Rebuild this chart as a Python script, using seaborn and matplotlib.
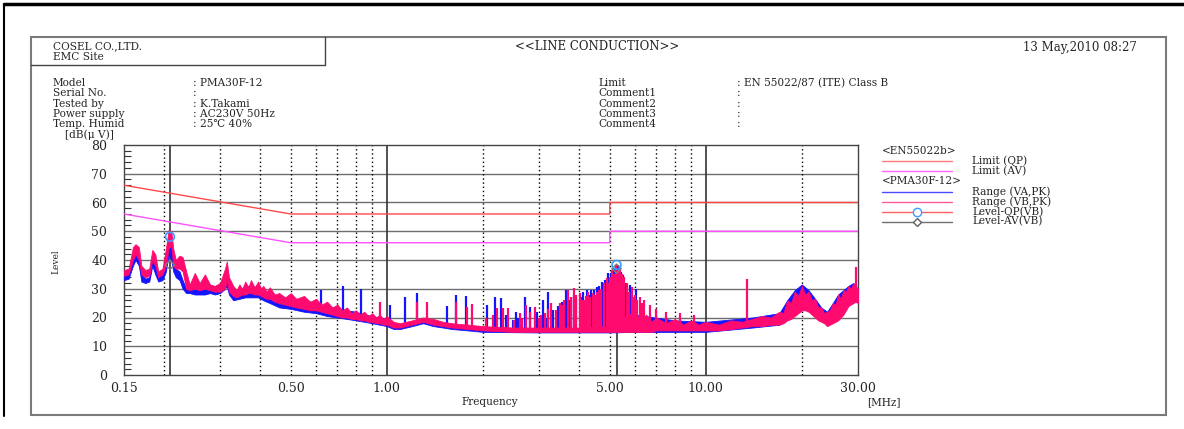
import matplotlib
matplotlib.use('Agg')
import matplotlib.pyplot as plt
import seaborn as sns
from matplotlib.patches import Rectangle
from matplotlib.ticker import FixedLocator, MultipleLocator, NullFormatter

# EN 55022 class B limits
lim_freq = [0.15, 0.5, 5.0, 5.0, 30.0]
lim_qp = [66, 56, 56, 60, 60]
lim_av = [56, 46, 46, 50, 50]

# Range (VB,PK) - pink trace, noise band (MHz, dBuV)
vb_freq = [0.150, 0.155, 0.160, 0.163, 0.167, 0.170, 0.175, 0.180, 0.184, 0.188,
           0.192, 0.198, 0.203, 0.207, 0.211, 0.214, 0.218, 0.224, 0.229, 0.235,
           0.241, 0.250, 0.259, 0.269, 0.279, 0.289, 0.300, 0.311, 0.315, 0.320,
           0.330, 0.338, 0.345, 0.352, 0.360, 0.368, 0.375, 0.385, 0.395, 0.403,
           0.410, 0.420, 0.430, 0.445, 0.460, 0.480, 0.500, 0.520, 0.550, 0.575,
           0.600, 0.625, 0.650, 0.675, 0.700, 0.725, 0.750, 0.775, 0.800, 0.825,
           0.850, 0.875, 0.900, 0.925, 0.950, 0.975, 1.00, 1.05, 1.10, 1.20,
           1.30, 1.40, 1.50, 1.60, 1.80, 2.00, 2.50, 3.00, 4.00, 5.00,
           5.50, 6.00, 6.25, 6.50, 6.75, 7.00, 7.50, 8.00, 8.50, 9.00,
           9.50, 10.0, 11.0, 12.0, 13.0, 14.0, 15.0, 16.0, 17.0, 17.5,
           18.0, 18.5, 19.0, 19.5, 20.0, 20.5, 21.0, 21.5, 22.0, 22.5,
           23.0, 23.5, 24.0, 24.5, 25.0, 25.5, 26.0, 26.5, 27.0, 27.5,
           28.0, 28.5, 29.0, 29.5, 30.0]
vb_lo = [34.5, 35, 40, 42, 40, 35, 34, 34.5, 40, 38,
         34, 35, 38, 44, 45, 38, 37, 37, 36, 30,
         29.5, 30, 29.5, 30, 29.5, 29, 29, 30, 33, 29,
         27.5, 27, 27.5, 28, 28, 28.5, 28.5, 28, 28, 27.5,
         27, 26.5, 26.5, 25.5, 25, 24.5, 24, 23.5, 23, 22.5,
         22.5, 22, 21.5, 21, 20.5, 20, 20, 19.5, 19.5, 19,
         19, 18.5, 18.5, 18, 18, 17.5, 17.5, 16.5, 16.5, 17.5,
         18.5, 17.5, 17, 16.5, 16, 15.5, 15, 15, 15, 15,
         15, 15, 15, 15, 15, 15.5, 15.5, 15.5, 15.5, 15.5,
         15.5, 15.5, 15.5, 16, 16.5, 17, 17, 17.5, 17.5, 18,
         19, 19.5, 20.5, 21.5, 22.5, 22.5, 22, 21, 20, 19,
         18.5, 18, 17, 17.5, 18, 18.5, 19, 20, 21, 22.5,
         24, 24.5, 25, 25.5, 25]
vb_hi = [36.5, 37, 44.5, 45.5, 44.5, 38, 36.5, 37, 43.5, 42,
         36, 37, 44, 50.5, 50, 44, 40, 41.5, 41, 36,
         31.5, 35.5, 32, 35, 31.5, 31, 32, 37, 39.5, 34,
         31, 29.5, 31.5, 30, 32.5, 30.5, 33, 30.5, 32.5, 30,
         31, 29, 30.5, 28, 28.5, 27, 28.5, 26.5, 27.5, 25.5,
         26.5, 24.5, 25.5, 23.5, 24.5, 22.5, 23.5, 21.5, 22.5, 21,
         22, 20.5, 21.5, 20, 21, 19.5, 20.5, 18.5, 18, 19,
         20, 19.5, 18.5, 18, 17.5, 17, 16.5, 16.5, 16.5, 17,
         20, 22, 19, 21, 18.5, 20, 18, 19.5, 17.5, 19,
         17.5, 18.5, 17.5, 19, 18.5, 19.5, 20.5, 20, 22, 21.5,
         26, 25, 29, 27.5, 31, 28, 29, 26, 26.5, 23.5,
         23.5, 21.5, 22, 22.5, 25, 24.5, 28, 26.5, 29.5, 29,
         31, 30, 32, 31, 30]
vb_spk_freq = [0.95, 1.24, 1.34, 1.65, 1.78, 1.85, 2.05, 2.15, 2.21, 2.32,
               2.40, 2.50, 2.61, 2.66, 2.74, 2.82, 2.91, 2.99, 3.05, 3.13,
               3.20, 3.28, 3.40, 3.48, 3.55, 3.60, 3.71, 3.78, 3.86, 3.93,
               4.03, 4.10, 4.15, 4.20, 4.28, 4.35, 4.42, 4.49, 4.55, 4.61,
               4.68, 4.78, 4.89, 4.95, 5.00, 5.07, 5.15, 5.23, 5.30, 5.37,
               5.45, 5.55, 5.67, 5.75, 5.85, 5.95, 6.00, 6.10, 6.20, 6.30,
               6.40, 6.70, 7.00, 7.50, 8.30, 9.20, 13.5, 29.5]
vb_spk_top = [25.5, 25.5, 25.5, 25.5, 23.8, 24.6, 20.0, 21.0, 23.2, 23.2,
              23.2, 19.0, 21.4, 20.0, 24.3, 22.0, 23.8, 19.7, 21.0, 21.4,
              23.0, 24.9, 22.6, 25.0, 24.5, 26.0, 29.6, 27.0, 30.1, 28.0,
              28.4, 26.0, 26.0, 27.5, 29.0, 27.0, 28.5, 27.8, 29.0, 29.6,
              30.0, 31.9, 33.6, 32.0, 34.0, 36.5, 35.0, 38.3, 36.5, 37.7,
              35.0, 34.2, 31.9, 29.0, 30.5, 27.0, 28.0, 26.0, 27.0, 25.0,
              26.0, 24.5, 23.0, 22.0, 21.5, 21.0, 33.3, 37.7]
vb_spk_base = [19.5, 18.5, 19, 17.5, 17, 17, 16, 16, 16, 16,
               16, 16, 16, 16, 16, 16, 16, 16, 16, 16,
               16, 16, 16, 16, 16, 16, 16, 16, 16, 16,
               16, 16, 16, 16, 16, 16, 16, 16, 16, 16,
               16, 16, 16, 16, 16, 16, 16, 16, 16, 16,
               16, 16, 16, 16, 16, 16, 16, 16, 16, 16,
               16, 16, 16, 16, 16, 16, 18, 29]

# Range (VA,PK) - blue trace
va_freq = [0.150, 0.155, 0.160, 0.163, 0.167, 0.170, 0.175, 0.180, 0.184, 0.188,
           0.192, 0.198, 0.203, 0.207, 0.211, 0.214, 0.218, 0.224, 0.229, 0.235,
           0.241, 0.250, 0.259, 0.269, 0.279, 0.289, 0.300, 0.311, 0.315, 0.320,
           0.330, 0.345, 0.360, 0.375, 0.395, 0.41, 0.43, 0.46, 0.50, 0.55,
           0.60, 0.65, 0.70, 0.75, 0.80, 0.85, 0.90, 0.95, 1.00, 1.05,
           1.10, 1.20, 1.30, 1.40, 1.50, 1.60, 1.80, 2.00, 3.00, 5.00,
           6.00, 8.00, 10.0, 14.0, 17.0, 18.0, 19.0, 20.0, 21.0, 22.0,
           23.0, 24.0, 25.0, 26.0, 27.0, 28.0, 29.0, 30.0]
va_lo = [33, 33.5, 38, 40, 38, 32.5, 32, 32.5, 38, 35,
         32.5, 33, 36, 42, 40, 36, 34, 33, 30, 28.5,
         28.5, 28, 28, 28, 28.5, 28, 28.5, 30, 31, 28,
         26, 26.5, 27, 27, 27, 26, 25, 23.5, 23, 22,
         21.5, 20.5, 20, 19.5, 19, 18.5, 18, 17.5, 17, 16,
         16, 17, 18, 17, 16.5, 16, 15.5, 15, 14.8, 14.8,
         15, 15, 15, 16.5, 17.5, 19.5, 21, 23, 22.5, 20.5,
         19, 17.5, 18.5, 19.5, 21.5, 24.5, 25.5, 25.5]
va_hi = [35.5, 36, 43, 44, 42, 35, 33.5, 34, 41.5, 39,
         34, 35, 42, 47.5, 46, 40, 37, 36, 33, 30,
         29.5, 30, 29.5, 30, 29.5, 30, 31, 35, 36, 31,
         28.5, 29, 31, 31, 30, 29, 28, 27, 26.5, 26,
         25, 24, 23, 22.5, 22, 21, 20.5, 20, 19.5, 17.5,
         17.5, 18.5, 19.5, 19, 18, 17.5, 17, 16.5, 16, 16.5,
         21, 19, 18.5, 20, 21.5, 26, 29.5, 31.5, 29.5, 26.5,
         23.5, 22, 25, 28, 29.5, 31, 32, 29.5]
va_spk_freq = [0.624, 0.728, 0.831, 1.02, 1.14, 1.24, 1.54, 1.65, 1.77, 2.06,
               2.18, 2.28, 2.37, 2.49, 2.55, 2.58, 2.71, 2.81, 2.95, 3.09,
               3.15, 3.20, 3.32, 3.45, 3.53, 3.65, 3.72, 3.79, 3.86, 3.93,
               4.05, 4.13, 4.23, 4.30, 4.38, 4.45, 4.55, 4.62, 4.72, 4.83,
               4.95, 5.05, 5.13, 5.20, 5.31, 5.42, 5.49, 5.62, 5.78, 6.05]
va_spk_top = [29.5, 31.0, 30.0, 24.5, 27.0, 28.5, 24.0, 27.8, 27.4, 24.3,
              27.2, 26.7, 21.0, 19.1, 22.0, 19.7, 27.2, 23.8, 22.0, 26.1,
              20.0, 29.0, 22.6, 24.0, 25.5, 29.6, 26.0, 27.2, 28.0, 26.7,
              27.0, 29.0, 29.6, 28.0, 29.6, 29.5, 30.5, 31.0, 32.5, 33.0,
              35.4, 35.5, 37.7, 37.0, 38.3, 36.0, 34.8, 32.0, 31.3, 30.0]
va_spk_base = [22, 21, 20, 17.5, 17, 18, 17, 16.5, 16.5, 15.5,
               15.5, 15.5, 15.5, 15.5, 15.5, 15.5, 15.5, 15.5, 15.5, 15.5,
               15.5, 15.5, 15.5, 15.5, 15.5, 15.5, 15.5, 15.5, 15.5, 15.5,
               15.5, 15.5, 15.5, 15.5, 15.5, 15.5, 15.5, 15.5, 15.5, 15.5,
               15.5, 15.5, 15.5, 15.5, 15.5, 15.5, 15.5, 15.5, 15.5, 15.5]

# final measurement points
qp_freq = [0.209, 5.25]
qp_level = [48.1, 38.3]
av_level = [38.3, 37.0]

y_ticks = [0, 10, 20, 30, 40, 50, 60, 70, 80]
x_ticks = [0.15, 0.50, 1.00, 5.00, 10.00, 30.00]
x_dotted = [0.2, 0.3, 0.4, 0.5, 0.6, 0.7, 0.8, 0.9, 2, 3, 4, 5, 6, 7, 8, 9, 20]

C_QP = '#ff4848'
C_AV = '#ff50ff'
C_VA = '#1414ff'
C_VB = '#ff0a6e'

sns.set_theme(style='white')
plt.rcParams['font.family'] = ['DejaVu Serif', 'DejaVu Sans']

fig = plt.figure(figsize=(11.84, 4.29), dpi=100)

# page furniture, pixel coordinates
bg = fig.add_axes([0, 0, 1, 1])
bg.set_xlim(0, 1184)
bg.set_ylim(429, 0)
bg.axis('off')
bg.plot([4, 1184], [4, 4], color='black', lw=2.5)
bg.plot([4, 4], [4, 416], color='black', lw=1.5)
bg.add_patch(Rectangle((31, 37), 1135, 378, fill=False, ec='#7a7a7a', lw=1.5))
bg.plot([31, 325], [65, 65], color='#444444', lw=1)
bg.plot([325, 325], [37, 65], color='#444444', lw=1)

fs = 7.6
bg.text(53, 46.5, 'COSEL CO.,LTD.', fontsize=fs, va='center')
bg.text(53, 57, 'EMC Site', fontsize=fs, va='center')
bg.text(597, 47, '<<LINE CONDUCTION>>', fontsize=8.5, va='center', ha='center')
bg.text(1137, 47, '13 May,2010 08:27', fontsize=8.5, va='center', ha='right')

left_keys = ['Model', 'Serial No.', 'Tested by', 'Power supply', 'Temp. Humid']
left_vals = [': PMA30F-12', ':', ': K.Takami', ': AC230V 50Hz', ': 25℃ 40%']
right_keys = ['Limit', 'Comment1', 'Comment2', 'Comment3', 'Comment4']
right_vals = [': EN 55022/87 (ITE) Class B', ':', ':', ':', ':']
for i in range(5):
    yy = 83 + i * 10.3
    bg.text(53, yy, left_keys[i], fontsize=fs, va='center')
    bg.text(193, yy, left_vals[i], fontsize=fs, va='center')
    bg.text(598, yy, right_keys[i], fontsize=fs, va='center')
    bg.text(737, yy, right_vals[i], fontsize=fs, va='center')
bg.text(65, 134.5, '[dB(μ V)]', fontsize=fs, va='center')
bg.text(56, 262, 'Level', fontsize=6.5, va='center', ha='center', rotation=90)
bg.text(490, 402, 'Frequency', fontsize=fs, va='center', ha='center')
bg.text(884, 402, '[MHz]', fontsize=fs, va='center', ha='center')

# legend block
bg.text(882, 151, '<EN55022b>', fontsize=fs, va='center')
bg.text(882, 181.5, '<PMA30F-12>', fontsize=fs, va='center')
leg = [(161, '#ff7a7a', 'Limit (QP)', None),
       (171, '#ff66ff', 'Limit (AV)', None),
       (191.5, '#4a4aff', 'Range (VA,PK)', None),
       (201.5, '#ff5a9a', 'Range (VB,PK)', None),
       (211.5, '#ff6060', 'Level-QP(VB)', 'o'),
       (221.5, '#707070', 'Level-AV(VB)', 'D')]
for yy, col, lab, mk in leg:
    bg.plot([882, 952], [yy, yy], color=col, lw=1)
    if mk == 'o':
        bg.plot([917], [yy], marker='o', ms=6, mfc='white', mec='#3c9cff', mew=1)
    elif mk == 'D':
        bg.plot([917], [yy], marker='D', ms=4.5, mfc='white', mec='#606060', mew=1)
    bg.text(972, yy, lab, fontsize=fs, va='center')

# chart
ax = fig.add_axes([124 / 1184, 1 - 375 / 429, 734 / 1184, 230 / 429])
ax.set_xscale('log')
ax.set_xlim(0.15, 30)
ax.set_ylim(0, 80)
ax.set_facecolor('white')

for yv in y_ticks[1:-1]:
    ax.axhline(yv, color='#6e6e6e', lw=1, zorder=1)
for xv in x_dotted:
    ax.axvline(xv, color='black', lw=1, ls=(0, (1, 2)), zorder=1)
for xv in [1, 10]:
    ax.axvline(xv, color='#333333', lw=1.2, zorder=1)
ax.axvline(qp_freq[0], color='#333333', lw=1.2, zorder=1)
ax.vlines(qp_freq[1], 0, qp_level[1], color='#333333', lw=1.2, zorder=1)

sns.lineplot(x=lim_freq, y=lim_qp, estimator=None, sort=False, color=C_QP, lw=1, ax=ax, zorder=3)
sns.lineplot(x=lim_freq, y=lim_av, estimator=None, sort=False, color=C_AV, lw=1, ax=ax, zorder=3)

ax.fill_between(va_freq, va_lo, va_hi, color=C_VA, lw=0.6, zorder=4)
ax.vlines(va_spk_freq, va_spk_base, va_spk_top, color=C_VA, lw=1.6, zorder=4)
ax.fill_between(vb_freq, vb_lo, vb_hi, color=C_VB, lw=0.6, zorder=5)
ax.vlines(vb_spk_freq, vb_spk_base, vb_spk_top, color=C_VB, lw=1.6, zorder=5)

sns.scatterplot(x=qp_freq, y=av_level, marker='D', s=22, facecolor='none',
                edgecolor='#808080', linewidth=1, ax=ax, zorder=6)
sns.scatterplot(x=qp_freq, y=qp_level, marker='o', s=40, facecolor='none',
                edgecolor='#3c9cff', linewidth=1.2, ax=ax, zorder=7)

ax.xaxis.set_major_locator(FixedLocator(x_ticks))
ax.xaxis.set_minor_locator(FixedLocator([]))
ax.set_xticklabels([f'{v:.2f}' for v in x_ticks])
ax.xaxis.set_minor_formatter(NullFormatter())
ax.set_yticks(y_ticks)
ax.yaxis.set_minor_locator(MultipleLocator(2))
ax.tick_params(axis='x', length=0, pad=5, labelsize=9)
ax.tick_params(axis='y', which='both', direction='in', length=5, width=0.8,
               color='#333333', left=True, pad=12, labelsize=9)
ax.tick_params(axis='y', which='major', length=0)
for s in ax.spines.values():
    s.set_color('#444444')
    s.set_linewidth(1)
ax.set_xlabel('')
ax.set_ylabel('')

fig.savefig('out.png', dpi=100)
